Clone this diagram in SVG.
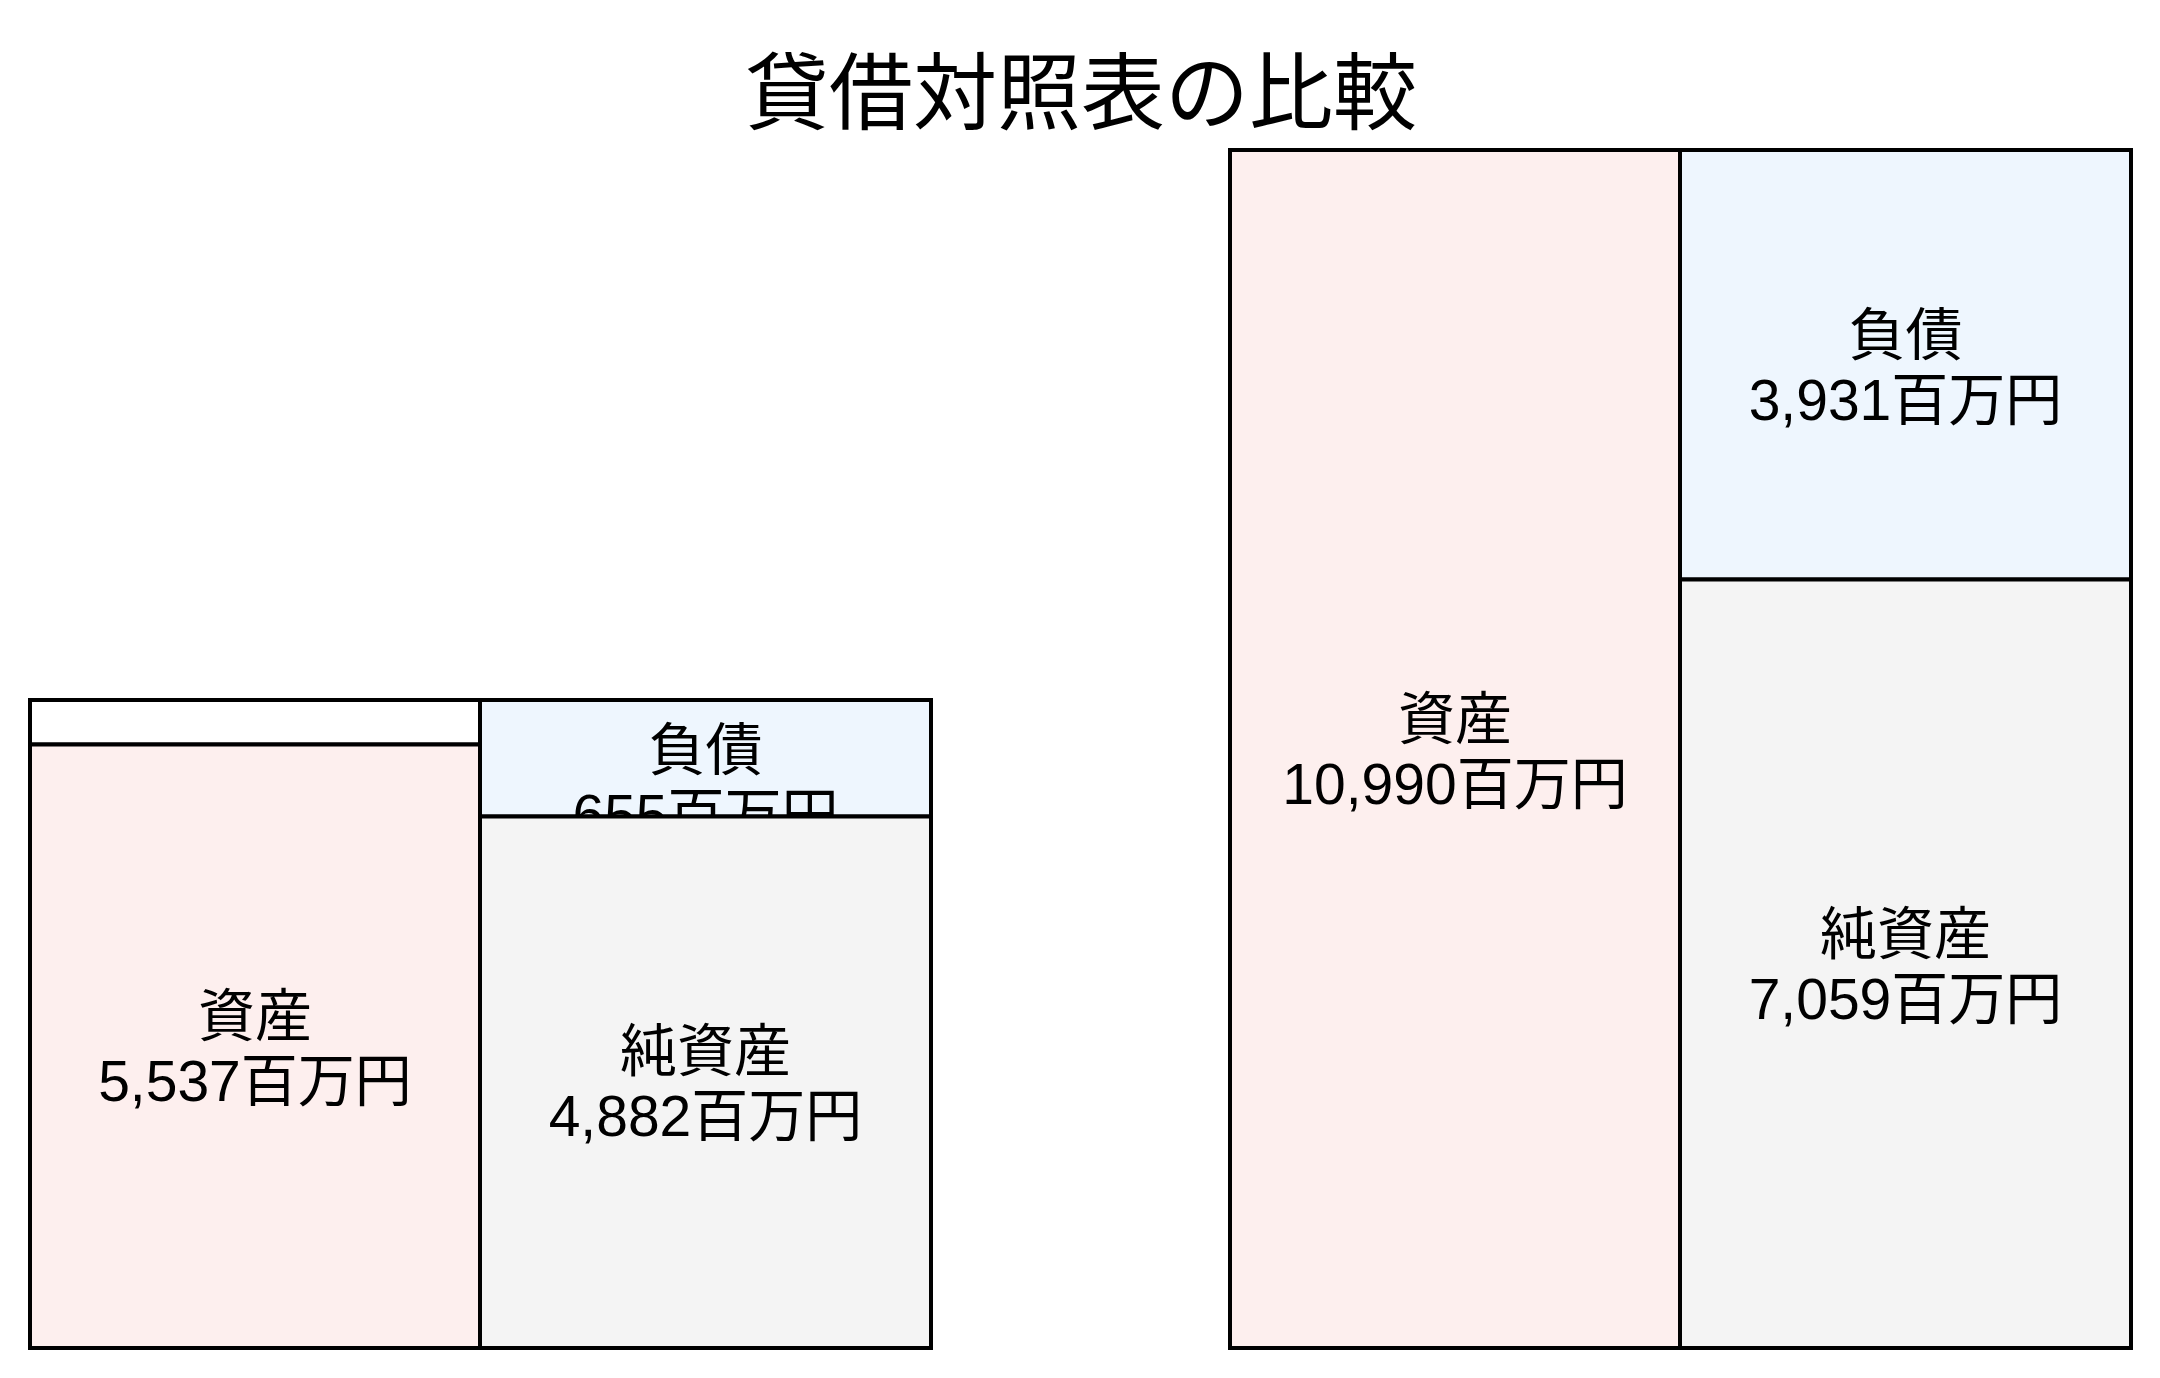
<svg xmlns="http://www.w3.org/2000/svg" width="2160" height="1378" viewBox="0 0 2160 1378">
<style>
.box{stroke:#000;stroke-width:4}
.asset{fill:#fdefee}
.liab{fill:#eef6fe}
.eq{fill:#f4f4f4}
.blank{fill:#ffffff}
text{font-family:"Liberation Sans","Noto Sans CJK JP",sans-serif;fill:#000;text-anchor:middle}
.lbl{font-size:57px}
.title{font-size:84px}
</style>
<rect width="2160" height="1378" fill="#ffffff"/>
<text class="title" x="1081" y="123">貸借対照表の比較</text>
<g id="left-chart">
  <g id="left-blank"><rect class="box blank" x="30" y="700" width="450" height="44.5"/></g>
  <g id="left-assets">
    <rect class="box asset" x="30" y="744.5" width="450" height="603.5"/>
    <text class="lbl" x="255" y="1036">資産</text>
    <text class="lbl" x="255" y="1101">5,537百万円</text>
  </g>
  <g id="left-liabilities">
    <rect class="box liab" x="480" y="700" width="451" height="116.5"/>
    <text class="lbl" x="705.5" y="770">負債</text>
    <text class="lbl" x="705.5" y="835">655百万円</text>
  </g>
  <g id="left-equity">
    <rect class="box eq" x="480" y="816.5" width="451" height="531.5"/>
    <text class="lbl" x="705.5" y="1071">純資産</text>
    <text class="lbl" x="705.5" y="1136">4,882百万円</text>
  </g>
</g>
<g id="right-chart">
  <g id="right-assets">
    <rect class="box asset" x="1230" y="150" width="450" height="1198"/>
    <text class="lbl" x="1455" y="738.5">資産</text>
    <text class="lbl" x="1455" y="803.5">10,990百万円</text>
  </g>
  <g id="right-liabilities">
    <rect class="box liab" x="1680" y="150" width="451" height="429.5"/>
    <text class="lbl" x="1905.5" y="355">負債</text>
    <text class="lbl" x="1905.5" y="420">3,931百万円</text>
  </g>
  <g id="right-equity">
    <rect class="box eq" x="1680" y="579.5" width="451" height="768.5"/>
    <text class="lbl" x="1905.5" y="953.5">純資産</text>
    <text class="lbl" x="1905.5" y="1018.5">7,059百万円</text>
  </g>
</g>
<g id="connectors"></g>
</svg>
